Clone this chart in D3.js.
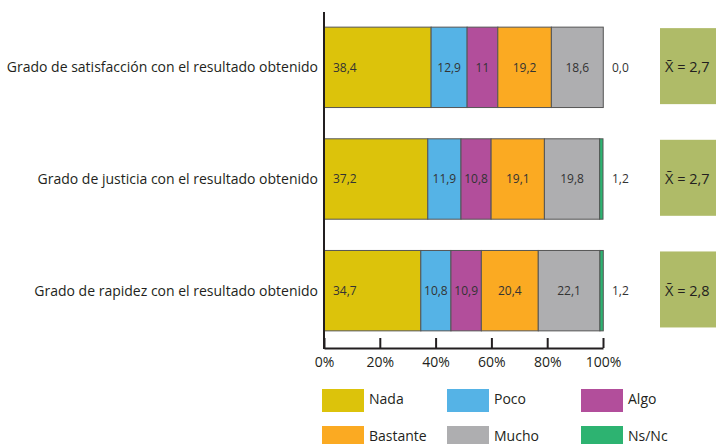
<!DOCTYPE html>
<html><head><meta charset="utf-8">
<script src="https://cdn.jsdelivr.net/npm/d3@7"></script>
<style>body{margin:0;background:#fff}svg{display:block}</style>
</head><body>
<svg id="c" width="716" height="444"></svg>
<script>
const categories = [
  "Grado de satisfacción con el resultado obtenido",
  "Grado de justicia con el resultado obtenido",
  "Grado de rapidez con el resultado obtenido"
];
const seriesNames = ["Nada", "Poco", "Algo", "Bastante", "Mucho", "Ns/Nc"];
const nada = [38.4, 37.2, 34.7];
const poco = [12.9, 11.9, 10.8];
const algo = [11, 10.8, 10.9];
const bastante = [19.2, 19.1, 20.4];
const mucho = [18.6, 19.8, 22.1];
const nsnc = [0.0, 1.2, 1.2];
const nsncLabels = ["0,0", "1,2", "1,2"];
const segLabels = [
  ["38,4", "12,9", "11", "19,2", "18,6"],
  ["37,2", "11,9", "10,8", "19,1", "19,8"],
  ["34,7", "10,8", "10,9", "20,4", "22,1"]
];
const means = ["2,7", "2,7", "2,8"];
const ticks = [0, 20, 40, 60, 80, 100];
const colors = ["#dcc30b", "#55b3e6", "#b24e9b", "#fbaa22", "#aeaeb0", "#2db371"];

const seriesVals = [nada, poco, algo, bastante, mucho, nsnc];
const rows = categories.map((c, i) => {
  const o = {cat: c};
  seriesNames.forEach((s, j) => o[s] = seriesVals[j][i]);
  return o;
});

const svg = d3.select("#c");
const font = "'Open Sans', sans-serif";
const x = d3.scaleLinear().domain([0, 100]).range([324, 603]);
const y = d3.scaleBand().domain(categories).range([11.5, 346.5]).paddingInner(0.28).paddingOuter(0.14);
const color = d3.scaleOrdinal().domain(seriesNames).range(colors);

const stack = d3.stack().keys(seriesNames)(rows);

const g = svg.append("g");
stack.forEach((layer, li) => {
  g.selectAll(null).data(layer).enter().append("rect")
    .attr("x", d => x(d[0]))
    .attr("y", d => y(d.data.cat))
    .attr("width", d => Math.max(0, x(d[1]) - x(d[0])))
    .attr("height", y.bandwidth())
    .attr("fill", color(layer.key))
    .attr("stroke", d => (d[1] - d[0]) > 0 ? "#555" : "none")
    .attr("stroke-width", 1);
});

// segment labels
stack.slice(0, 5).forEach((layer, li) => {
  g.selectAll(null).data(layer).enter().append("text")
    .attr("x", (d, i) => li === 0 ? x(d[0]) + 9 : (x(d[0]) + x(d[1])) / 2)
    .attr("y", d => y(d.data.cat) + y.bandwidth() / 2)
    .attr("dy", "0.35em")
    .attr("text-anchor", li === 0 ? "start" : "middle")
    .attr("font-family", font).attr("font-size", 12).attr("fill", "#333")
    .text((d, i) => segLabels[i][li]);
});

// Ns/Nc labels
g.selectAll(null).data(categories).enter().append("text")
  .attr("x", 612).attr("y", d => y(d) + y.bandwidth() / 2).attr("dy", "0.35em")
  .attr("font-family", font).attr("font-size", 12).attr("fill", "#333")
  .text((d, i) => nsncLabels[i]);

// category labels
g.selectAll(null).data(categories).enter().append("text")
  .attr("x", 318).attr("y", d => y(d) + y.bandwidth() / 2).attr("dy", "0.35em")
  .attr("text-anchor", "end")
  .attr("font-family", font).attr("font-size", 14).attr("fill", "#231f20")
  .text(d => d);

// mean boxes
g.selectAll(null).data(categories).enter().append("rect")
  .attr("x", 660).attr("y", d => y(d) + 1).attr("width", 60).attr("height", 76)
  .attr("fill", "#afbb68");
g.selectAll(null).data(categories).enter().append("text")
  .attr("x", 665).attr("y", d => y(d) + y.bandwidth() / 2).attr("dy", "0.35em")
  .attr("font-family", font).attr("font-size", 14.5).attr("fill", "#231f20")
  .text((d, i) => "X\u0304 = " + means[i]);

// axes
const axis = d3.axisBottom(x).tickValues(ticks).tickFormat(d => d + "%").tickSize(-10).tickSizeOuter(0);
const ax = svg.append("g").attr("transform", "translate(0,348)").call(axis);
ax.select(".domain").attr("stroke", "#231f20").attr("stroke-width", 2);
ax.selectAll(".tick line").attr("stroke", "#231f20").attr("stroke-width", 2);
ax.selectAll(".tick text").attr("y", 9).attr("dy", "0.71em")
  .attr("font-family", font).attr("font-size", 14).attr("fill", "#231f20");
svg.append("line").attr("x1", x(0)).attr("x2", x(0)).attr("y1", 12).attr("y2", 349)
  .attr("stroke", "#231f20").attr("stroke-width", 2);

// legend
const legCols = [322, 447, 581];
const legRows = [389, 426];
const leg = svg.append("g");
seriesNames.forEach((s, i) => {
  const cx = legCols[i % 3], cy = legRows[Math.floor(i / 3)];
  leg.append("rect").attr("x", cx).attr("y", cy).attr("width", 42).attr("height", 23).attr("fill", color(s));
  leg.append("text").attr("x", cx + 47).attr("y", cy + 10.5).attr("dy", "0.35em")
    .attr("font-family", font).attr("font-size", 14).attr("fill", "#231f20").text(s);
});
</script>
</body></html>
